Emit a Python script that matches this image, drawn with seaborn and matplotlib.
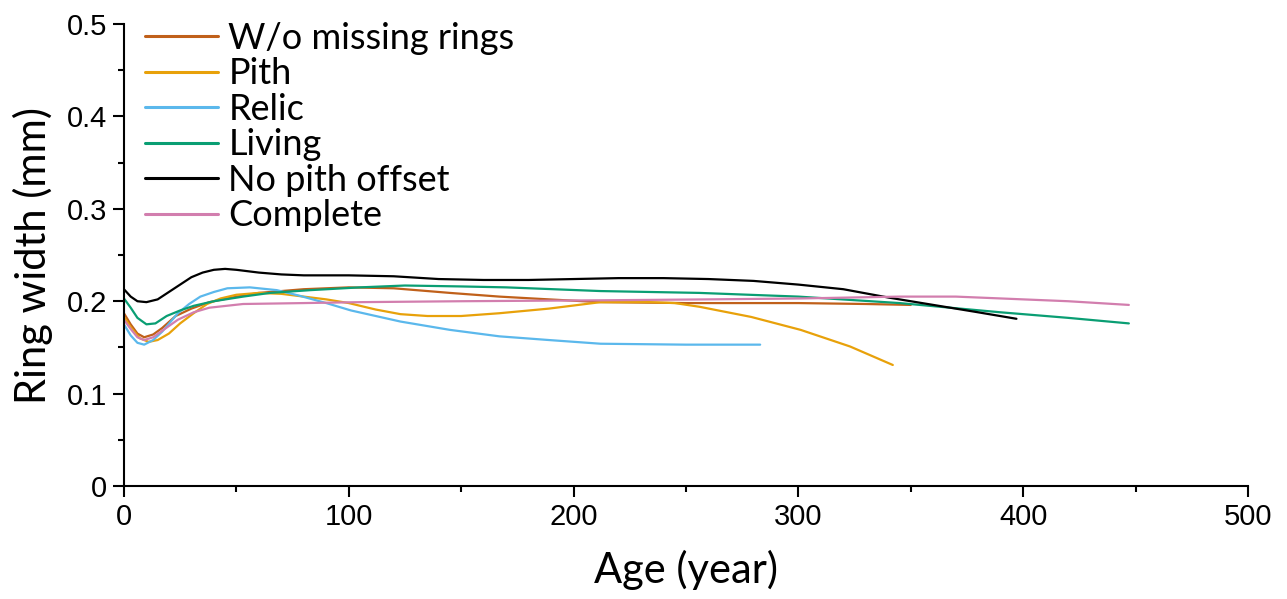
import numpy as np
import pandas as pd
import matplotlib
matplotlib.use("Agg")
import matplotlib.pyplot as plt
import seaborn as sns
from matplotlib.ticker import MultipleLocator

# ---- data ----
series_names = ["W/o missing rings", "Pith", "Relic", "Living", "No pith offset", "Complete"]

wo_age = [0, 3, 6, 9, 13, 17, 23, 30, 38, 48, 60, 80, 100, 120, 145, 167, 189, 212, 250, 300, 330, 350]
wo_val = [0.187, 0.175, 0.165, 0.161, 0.164, 0.171, 0.184, 0.192, 0.199, 0.204, 0.209, 0.213, 0.215,
          0.214, 0.209, 0.205, 0.202, 0.199, 0.198, 0.198, 0.197, 0.196]

pith_age = [0, 3, 7, 11, 15, 20, 25, 31, 37, 43, 50, 60, 70, 80, 90, 100, 112, 123, 135, 150, 167,
            189, 212, 234, 245, 256, 279, 301, 323, 342]
pith_val = [0.183, 0.172, 0.160, 0.156, 0.158, 0.165, 0.176, 0.187, 0.197, 0.203, 0.207, 0.209, 0.208,
            0.205, 0.202, 0.198, 0.191, 0.186, 0.184, 0.184, 0.187, 0.192, 0.199, 0.199, 0.198, 0.194,
            0.183, 0.169, 0.151, 0.131]

relic_age = [0, 3, 6, 9, 13, 17, 24, 29, 34, 40, 46, 56, 68, 78, 90, 101, 112, 123, 145, 167, 189,
             212, 250, 283]
relic_val = [0.175, 0.163, 0.155, 0.153, 0.158, 0.167, 0.187, 0.197, 0.205, 0.210, 0.214, 0.215, 0.212,
             0.206, 0.198, 0.190, 0.184, 0.178, 0.169, 0.162, 0.158, 0.154, 0.153, 0.153]

living_age = [0, 3, 6, 10, 14, 19, 25, 31, 40, 53, 65, 83, 105, 125, 150, 170, 212, 256, 300, 345,
              390, 420, 447]
living_val = [0.203, 0.193, 0.182, 0.175, 0.176, 0.184, 0.190, 0.195, 0.200, 0.205, 0.209, 0.212,
              0.215, 0.217, 0.216, 0.215, 0.211, 0.209, 0.205, 0.198, 0.188, 0.182, 0.176]

nopith_age = [0, 3, 6, 10, 15, 20, 25, 30, 35, 40, 45, 50, 60, 70, 80, 100, 120, 140, 160, 180, 200,
              220, 240, 260, 280, 300, 320, 340, 360, 380, 397]
nopith_val = [0.213, 0.205, 0.200, 0.199, 0.202, 0.210, 0.218, 0.226, 0.231, 0.234, 0.235, 0.234,
              0.231, 0.229, 0.228, 0.228, 0.227, 0.224, 0.223, 0.223, 0.224, 0.225, 0.225, 0.224,
              0.222, 0.218, 0.213, 0.204, 0.196, 0.188, 0.181]

complete_age = [0, 3, 6, 9, 13, 17, 24, 31, 38, 53, 80, 105, 150, 212, 260, 301, 345, 370, 390, 420, 447]
complete_val = [0.180, 0.170, 0.161, 0.158, 0.161, 0.168, 0.180, 0.188, 0.193, 0.197, 0.198, 0.199,
                0.200, 0.201, 0.202, 0.203, 0.205, 0.205, 0.203, 0.200, 0.196]

colors = ["#C0601A", "#E8A10A", "#5BB8EC", "#0A9E73", "#000000", "#D27EAE"]

x_ticks = [0, 100, 200, 300, 400, 500]
y_ticks = [0, 0.1, 0.2, 0.3, 0.4, 0.5]
y_tick_labels = ["0", "0.1", "0.2", "0.3", "0.4", "0.5"]

# ---- build long table ----
ages = [wo_age, pith_age, relic_age, living_age, nopith_age, complete_age]
vals = [wo_val, pith_val, relic_val, living_val, nopith_val, complete_val]
frames = []
for name, a, v in zip(series_names, ages, vals):
    frames.append(pd.DataFrame({"Age": a, "Width": v, "Series": name}))
df = pd.concat(frames, ignore_index=True)

sns.set_theme(style="ticks")
plt.rcParams["font.family"] = ["Liberation Sans", "DejaVu Sans"]
plt.rcParams["text.color"] = "black"
plt.rcParams["axes.labelcolor"] = "black"
plt.rcParams["xtick.color"] = "black"
plt.rcParams["ytick.color"] = "black"

fig = plt.figure(figsize=(12.87, 5.99), dpi=100)
ax = fig.add_axes([0.0963, 0.1886, 0.8734, 0.7713])

sns.lineplot(data=df, x="Age", y="Width", hue="Series", hue_order=series_names,
             palette=dict(zip(series_names, colors)), sort=False, estimator=None,
             linewidth=1.6, ax=ax)

ax.set_xlim(0, 500)
ax.set_ylim(0, 0.5)
ax.set_xticks(x_ticks)
ax.set_xticklabels([str(t) for t in x_ticks])
ax.set_yticks(y_ticks)
ax.set_yticklabels(y_tick_labels)
ax.xaxis.set_minor_locator(MultipleLocator(50))
ax.yaxis.set_minor_locator(MultipleLocator(0.05))
ax.tick_params(axis="both", which="major", direction="out", length=8, width=1.5,
               labelsize=21, colors="black", labelcolor="black", pad=4)
ax.tick_params(axis="both", which="minor", direction="out", length=4.5, width=1.5, colors="black")
for s in ["top", "right"]:
    ax.spines[s].set_visible(False)
for s in ["left", "bottom"]:
    ax.spines[s].set_linewidth(1.5)
    ax.spines[s].set_color("black")

ax.set_xlabel("Age (year)", fontsize=30, family=["Lato", "DejaVu Sans"], labelpad=14, color="black")
ax.set_ylabel("Ring width (mm)", fontsize=30, family=["Lato", "DejaVu Sans"], labelpad=10, color="black")

leg = ax.legend(loc="upper left", bbox_to_anchor=(0.019, 1.005), frameon=False,
                prop={"family": "Lato", "size": 26}, handlelength=2.0, handletextpad=0.3,
                labelspacing=0.07, borderaxespad=0, borderpad=0)
for line in leg.get_lines():
    line.set_linewidth(2.2)
for t in leg.get_texts():
    t.set_color("black")

fig.savefig("out.png", dpi=100)
